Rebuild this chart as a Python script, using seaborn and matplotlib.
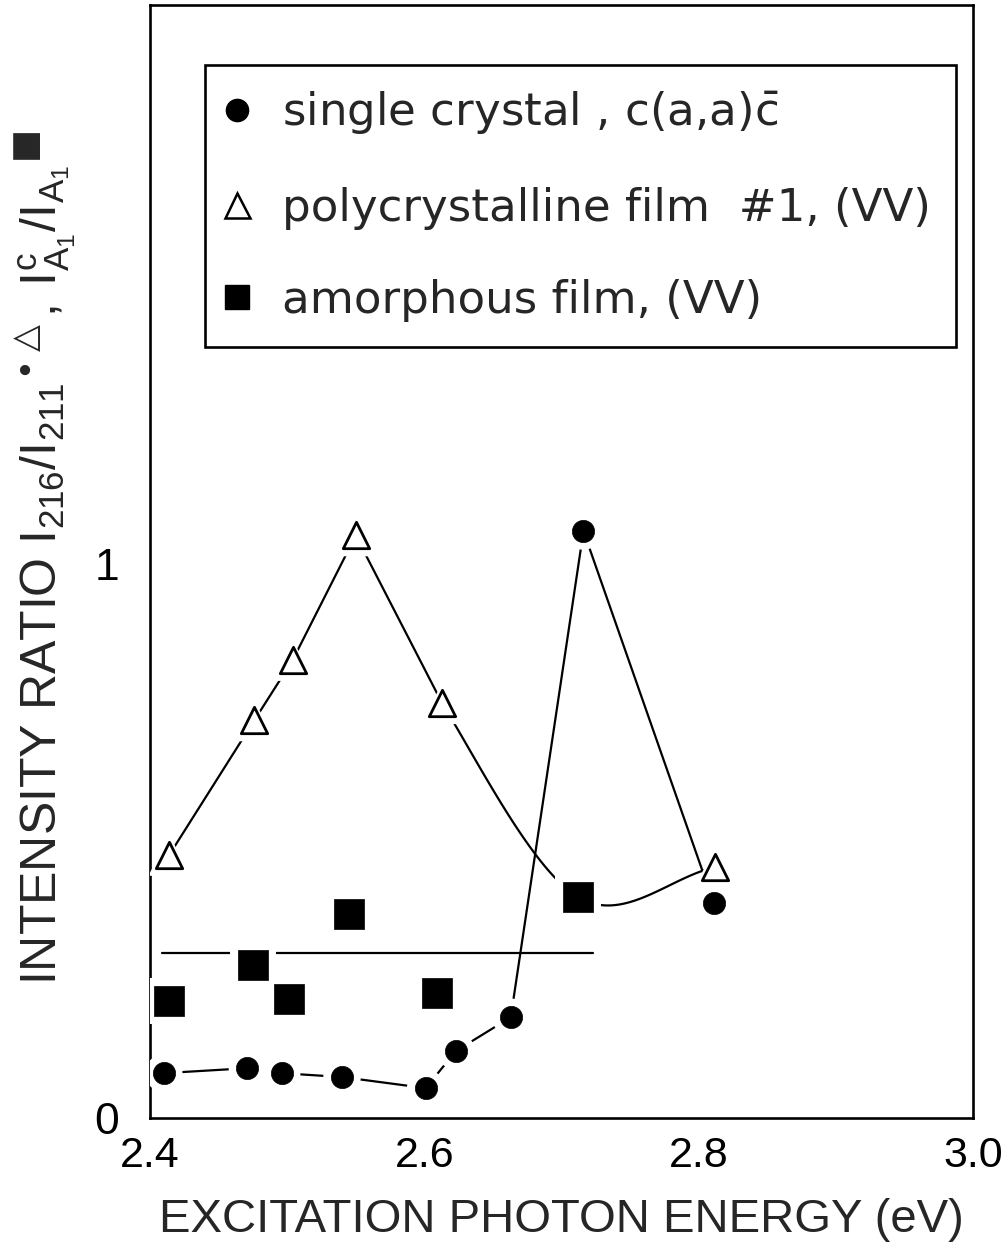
import numpy as np
import pandas as pd
import matplotlib
matplotlib.use("Agg")
import matplotlib.pyplot as plt
import seaborn as sns
from matplotlib.lines import Line2D

# Single crystal, c(a,a)c-bar geometry
crystal_ev = [2.410, 2.471, 2.496, 2.540, 2.601, 2.623, 2.663, 2.716, 2.811]
crystal_ratio = [0.081, 0.090, 0.081, 0.074, 0.054, 0.121, 0.182, 1.060, 0.388]

# Polycrystalline film #1, (VV)
poly_ev = [2.414, 2.476, 2.504, 2.550, 2.613, 2.812]
poly_ratio = [0.475, 0.718, 0.827, 1.052, 0.749, 0.453]

# Amorphous film, (VV)
amorph_ev = [2.414, 2.475, 2.501, 2.545, 2.609, 2.712]
amorph_ratio = [0.211, 0.276, 0.215, 0.368, 0.226, 0.399]

# Mean level of the amorphous film and its energy span
amorph_level = 0.298
amorph_level_span = [2.409, 2.723]

x_ticks = [2.4, 2.5, 2.6, 2.7, 2.8, 2.9, 3.0]
x_ticklabels = ["2.4", "", "2.6", "", "2.8", "", "3.0"]
y_ticks = [0, 1, 1.5]
y_ticklabels = ["0", "1", ""]

legend_labels = [
    r"single crystal , c(a,a)$\bar{\mathregular{c}}$",
    "polycrystalline film  #1, (VV)",
    "amorphous film, (VV)",
]

sns.set_style("white")
plt.rcParams["font.family"] = ["DejaVu Sans"]
plt.rcParams["mathtext.fontset"] = "dejavusans"

SANS = ["Liberation Sans", "DejaVu Sans"]


def hermite(p0, p1, m0, m1, n=60):
    """Cubic Hermite segment between two points with given tangents."""
    t = np.linspace(0.0, 1.0, n)[:, None]
    h00 = 2 * t**3 - 3 * t**2 + 1
    h10 = t**3 - 2 * t**2 + t
    h01 = -2 * t**3 + 3 * t**2
    h11 = t**3 - t**2
    p0, p1, m0, m1 = map(np.asarray, (p0, p1, m0, m1))
    return h00 * p0 + h10 * m0 + h01 * p1 + h11 * m1


fig = plt.figure(figsize=(10.02, 12.51), dpi=100)
ax = fig.add_axes([0.1497, 0.1063, 0.8214, 0.8897])

LW = 1.6

# Guide curve for the single crystal: straight segments through the points
crystal_df = pd.DataFrame({"ev": crystal_ev, "ratio": crystal_ratio})
sns.lineplot(data=crystal_df, x="ev", y="ratio", sort=False, estimator=None,
             color="black", lw=LW, ax=ax)

# Guide curve for the polycrystalline film: straight up to the 2.61 eV point,
# then a smooth sweep through the 2.71 eV amorphous point to the last point.
P = np.column_stack([poly_ev, poly_ratio])
S = np.array([amorph_ev[-1], amorph_ratio[-1]])
seg_a = P[:5]
m_p4 = (S - P[3]) / 2.0
m_s = (P[5] - P[4]) / 2.0
seg_b = hermite(P[4], S, m_p4, m_s)
seg_c = hermite(S, P[5], m_s, P[5] - S)
poly_path = np.vstack([seg_a, seg_b[1:], seg_c[1:]])
sns.lineplot(x=poly_path[:, 0], y=poly_path[:, 1], sort=False, estimator=None,
             color="black", lw=LW, ax=ax)

# Mean level of the amorphous film
sns.lineplot(x=amorph_level_span, y=[amorph_level, amorph_level], sort=False,
             estimator=None, color="black", lw=LW, ax=ax)

# White halos leave small gaps where the curves meet the symbols
sns.scatterplot(x=crystal_ev, y=crystal_ratio, marker="o", s=27**2,
                color="white", edgecolor="none", linewidth=0, ax=ax, zorder=3)
sns.scatterplot(x=poly_ev, y=poly_ratio, marker="^", s=30**2,
                color="white", edgecolor="none", linewidth=0, ax=ax, zorder=3)
sns.scatterplot(x=amorph_ev, y=amorph_ratio, marker="s", s=33**2,
                color="white", edgecolor="none", linewidth=0, ax=ax, zorder=3)

# Symbols
sns.scatterplot(x=crystal_ev, y=crystal_ratio, marker="o", s=16**2,
                color="black", edgecolor="black", linewidth=0.5, ax=ax, zorder=4)
sns.scatterplot(x=poly_ev, y=poly_ratio, marker="^", s=19**2,
                color="white", edgecolor="black", linewidth=2.0, ax=ax, zorder=4)
sns.scatterplot(x=amorph_ev, y=amorph_ratio, marker="s", s=22**2,
                color="black", edgecolor="black", linewidth=0.5, ax=ax, zorder=4)

ax.set_xlim(2.4, 3.0)
ax.set_ylim(0, 2.01)

ax.set_xticks(x_ticks)
ax.set_xticklabels(x_ticklabels, fontfamily=SANS, fontsize=31)
ax.set_yticks(y_ticks)
ax.set_yticklabels(y_ticklabels, fontfamily=SANS, fontsize=32)
ax.tick_params(axis="x", direction="in", length=6, width=1.3, pad=13,
               colors="black")
ax.tick_params(axis="y", direction="in", length=10, width=1.8, pad=22,
               colors="black")

for sp in ax.spines.values():
    sp.set_visible(True)
    sp.set_color("black")
    sp.set_linewidth(1.9)

ax.set_xlabel("EXCITATION PHOTON ENERGY (eV)", fontfamily=SANS, fontsize=34,
              labelpad=16)
ax.set_ylabel(
    r"INTENSITY RATIO $\mathregular{I_{216}/I_{211}}^{\bullet\triangle}"
    r"\mathregular{,\,I_{A_1}^{c}/I_{A_1}}^{\blacksquare}$",
    fontfamily=SANS, fontsize=36,
)
ax.yaxis.set_label_coords(-0.088, 0.503)

handles = [
    Line2D([], [], ls="none", marker="o", ms=16, color="black"),
    Line2D([], [], ls="none", marker="^", ms=18, mfc="white", mec="black",
           mew=1.8),
    Line2D([], [], ls="none", marker="s", ms=17, color="black"),
]
leg = ax.legend(handles, legend_labels, loc="upper left",
                bbox_to_anchor=(0.067, 0.946), borderaxespad=0,
                prop={"family": "DejaVu Sans", "size": 32.5},
                frameon=True, fancybox=False, framealpha=1,
                edgecolor="black", borderpad=0.55, handlelength=0.3,
                handletextpad=0.85, labelspacing=1.1)
leg.get_frame().set_linewidth(1.9)

fig.savefig("out.png", dpi=100, facecolor="white")
